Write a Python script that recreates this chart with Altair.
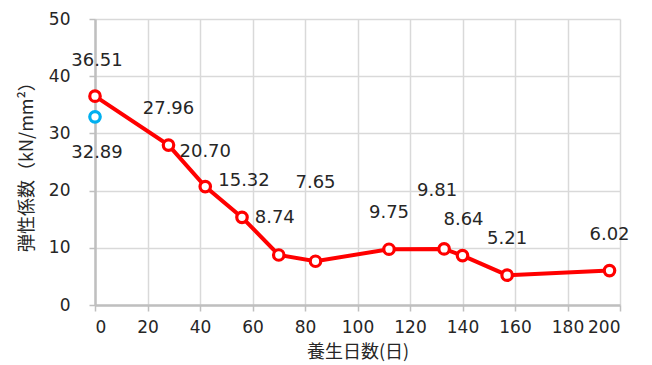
import altair as alt
import pandas as pd

# Curing days and elastic modulus (kN/mm2)
days = [0, 28, 42, 56, 70, 84, 112, 133, 140, 157, 196]
modulus = [36.51, 27.96, 20.70, 15.32, 8.74, 7.65, 9.75, 9.81, 8.64, 5.21, 6.02]

# Separate reference specimen at day 0
ref_days = [0]
ref_modulus = [32.89]

x_ticks = list(range(0, 201, 20))
y_ticks = list(range(0, 51, 10))

main = pd.DataFrame({"day": days, "val": modulus})
main["label"] = [f"{v:.2f}" for v in modulus]
ref = pd.DataFrame({"day": ref_days, "val": ref_modulus})
ref["label"] = [f"{v:.2f}" for v in ref_modulus]

NUM_FONT = "DejaVu Sans"
JP_FONT = "Noto Sans CJK JP"
TXT = "#262626"

x_enc = alt.X(
    "day:Q",
    scale=alt.Scale(domain=[0, 200], nice=False),
    axis=alt.Axis(
        values=x_ticks, title="養生日数(日)", titleFont=JP_FONT, titleFontSize=18,
        titleFontWeight="normal", titleColor=TXT, titlePadding=8,
    ),
)
y_enc = alt.Y(
    "val:Q",
    scale=alt.Scale(domain=[0, 50], nice=False),
    axis=alt.Axis(
        values=y_ticks, title="弾性係数（kN/mm²）", titleFont=JP_FONT, titleFontSize=18,
        titleFontWeight="normal", titleColor=TXT, titlePadding=12,
    ),
)

line = alt.Chart(main).mark_line(color="#ff0000", strokeWidth=4).encode(x=x_enc, y=y_enc)
pts = alt.Chart(main).mark_point(
    shape="circle", filled=False, fill="white", fillOpacity=1,
    stroke="#ff0000", strokeWidth=3.2, size=110, opacity=1,
).encode(x="day:Q", y="val:Q")
ref_pt = alt.Chart(ref).mark_point(
    shape="circle", filled=False, fill="white", fillOpacity=1,
    stroke="#00b0f0", strokeWidth=3.2, size=110, opacity=1,
).encode(x="day:Q", y="val:Q")

# Label placement (dx, dy) per point, keyed by day
label_shift = {0: (2, -35), 28: (0, -36), 42: (0, -35), 56: (2, -36), 70: (-4, -37),
               84: (0, -78), 112: (0, -36), 133: (-7, -58), 140: (1, -36),
               157: (0, -36), 196: (0, -36)}

layers = [line, pts, ref_pt]
for d in days:
    dx, dy = label_shift[d]
    layers.append(
        alt.Chart(main).transform_filter(alt.datum.day == d).mark_text(
            font=NUM_FONT, fontSize=18, color=TXT, dx=dx, dy=dy,
        ).encode(x="day:Q", y="val:Q", text="label:N")
    )
layers.append(
    alt.Chart(ref).mark_text(
        font=NUM_FONT, fontSize=18, color=TXT, dx=2, dy=36,
    ).encode(x="day:Q", y="val:Q", text="label:N")
)

chart = alt.layer(*layers).properties(
    width=525, height=286,
    autosize=alt.AutoSizeParams(type="none"),
    padding={"left": 95, "top": 19, "right": 32, "bottom": 60},
    background="white",
).configure_view(stroke=None).configure_axis(
    labelFont=NUM_FONT, labelFontSize=17, labelColor=TXT,
    gridColor="#d9d9d9", gridWidth=1.5,
    domainColor="#bfbfbf", domainWidth=2.5,
    tickColor="#bfbfbf", tickWidth=1.5, tickSize=6,
).configure_axisX(labelPadding=8).configure_axisY(labelPadding=19)

chart.save("out.html", embed_options={"renderer": "svg", "actions": False})
